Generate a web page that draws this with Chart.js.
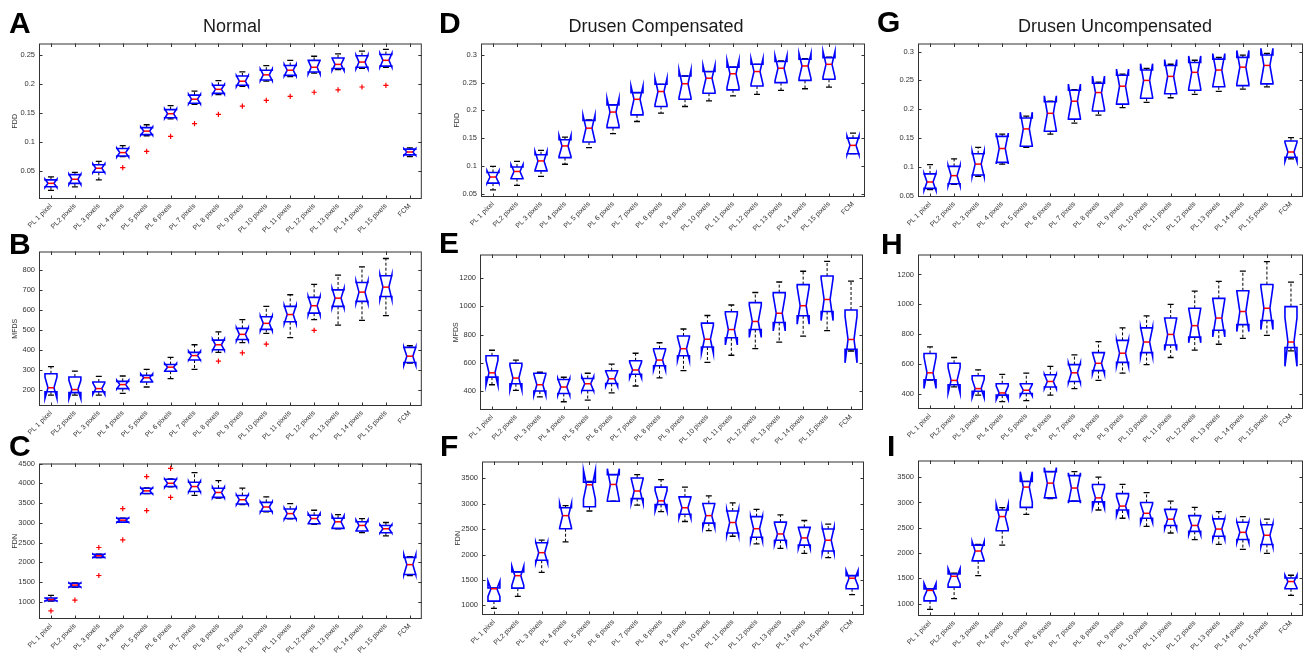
<!DOCTYPE html>
<html>
<head>
<meta charset="utf-8">
<script src="https://cdn.jsdelivr.net/npm/chart.js@4.4.0/dist/chart.umd.min.js"></script>
<style>
  body { margin: 0; background: #fff; }
  #fig { position: relative; width: 1311px; height: 660px; overflow: hidden; background: #fff; }
  #fig canvas { position: absolute; }
  .lab { position: absolute; font: bold 30px "Liberation Sans", Arial, sans-serif; line-height: 30px; color: #000; }
  .ttl { position: absolute; font: 18px "Liberation Sans", Arial, sans-serif; line-height: 18px; color: #1a1a1a;
         white-space: nowrap; transform: translateX(-50%); }
</style>
</head>
<body>
<div id="fig">
  <div class="lab" style="left:9px;top:8px">A</div>
  <div class="lab" style="left:9px;top:229px">B</div>
  <div class="lab" style="left:9px;top:431px">C</div>
  <div class="lab" style="left:439px;top:8px">D</div>
  <div class="lab" style="left:439px;top:228px">E</div>
  <div class="lab" style="left:440px;top:431px">F</div>
  <div class="lab" style="left:877px;top:7px">G</div>
  <div class="lab" style="left:881px;top:229px">H</div>
  <div class="lab" style="left:887px;top:431px">I</div>
  <div class="ttl" style="left:232px;top:17px">Normal</div>
  <div class="ttl" style="left:656px;top:17px">Drusen Compensated</div>
  <div class="ttl" style="left:1115px;top:17px">Drusen Uncompensated</div>
</div>
<script>
//categorias del eje x
var categories = ['PL 1 pixel','PL2 pixels','PL 3 pixels','PL 4 pixels','PL 5 pixels','PL 6 pixels','PL 7 pixels',
  'PL 8 pixels','PL 9 pixels','PL 10 pixels','PL 11 pixels','PL 12 pixels','PL 13 pixels','PL 14 pixels','PL 15 pixels','FCM'];

//numero de sujetos por grupo (para el ancho de la muesca)
var groupSize = 7;

//etiquetas del eje y
var ticksFdd1 = [0.05, 0.1, 0.15, 0.2, 0.25];
var ticksFdd2 = [0.05, 0.1, 0.15, 0.2, 0.25, 0.3];
var ticksMfds1 = [200, 300, 400, 500, 600, 700, 800];
var ticksMfds2 = [400, 600, 800, 1000, 1200];
var ticksFdn1 = [1000, 1500, 2000, 2500, 3000, 3500, 4000, 4500];
var ticksFdn2 = [1000, 1500, 2000, 2500, 3000, 3500];

//A - FDD normal
var aLow  = [0.016,0.022,0.034,0.074,0.110,0.139,0.164,0.181,0.195,0.204,0.212,0.218,0.224,0.226,0.228,0.074];
var aQ1   = [0.022,0.028,0.047,0.075,0.112,0.141,0.166,0.183,0.197,0.206,0.214,0.220,0.226,0.228,0.230,0.077];
var aMed  = [0.028,0.035,0.054,0.081,0.118,0.148,0.173,0.190,0.204,0.215,0.223,0.228,0.233,0.237,0.240,0.082];
var aQ3   = [0.034,0.043,0.060,0.088,0.124,0.155,0.180,0.197,0.213,0.223,0.231,0.240,0.244,0.248,0.250,0.087];
var aHigh = [0.039,0.047,0.066,0.093,0.129,0.162,0.187,0.205,0.220,0.231,0.240,0.247,0.251,0.256,0.259,0.089];
var aOut  = [[3,0.055],[4,0.083],[5,0.109],[6,0.131],[7,0.147],[8,0.161],[9,0.171],[10,0.178],[11,0.185],[12,0.189],[13,0.194],[14,0.197]];

//B - MFDS normal
var bLow  = [175,175,175,184,216,258,304,389,438,484,463,553,525,549,573,335];
var bQ1   = [192,188,192,208,241,295,351,402,453,504,542,585,619,644,668,338];
var bMed  = [212,203,208,228,262,315,373,427,479,534,578,622,660,690,715,370];
var bQ3   = [282,266,241,244,274,328,389,450,509,567,619,664,701,738,772,414];
var bHigh = [318,295,269,271,304,364,427,491,553,619,677,729,775,816,858,422];
var bOut  = [[7,345],[8,386],[9,430],[11,499]];

//C - FDN normal
var cLow  = [1020,1370,2120,3010,3740,3910,3692,3625,3458,3275,3100,2958,2850,2750,2667,1667];
var cQ1   = [1030,1378,2125,3017,3742,3917,3792,3642,3475,3292,3108,2975,2858,2792,2750,1692];
var cMed  = [1058,1425,2167,3067,3808,4000,3917,3767,3583,3400,3233,3108,3025,2933,2850,1942];
var cQ3   = [1100,1470,2205,3115,3875,4100,4025,3875,3692,3517,3350,3192,3117,3025,2933,2125];
var cHigh = [1167,1480,2210,3120,3880,4110,4267,4067,3875,3658,3483,3317,3208,3108,3008,2142];
var cOut  = [[0,775],[1,1042],[2,2375],[2,1667],[3,3358],[3,2567],[4,4167],[4,3308],[5,4375],[5,3642]];

//D - FDD drusen compensado
var dLow  = [0.057,0.065,0.081,0.103,0.133,0.158,0.180,0.195,0.207,0.217,0.226,0.229,0.236,0.239,0.242,0.122];
var dQ1   = [0.069,0.077,0.091,0.115,0.143,0.169,0.192,0.207,0.220,0.231,0.237,0.244,0.250,0.254,0.256,0.122];
var dMed  = [0.080,0.090,0.109,0.136,0.168,0.197,0.220,0.234,0.248,0.258,0.266,0.270,0.276,0.280,0.283,0.137];
var dQ3   = [0.088,0.098,0.120,0.147,0.182,0.210,0.232,0.247,0.262,0.270,0.278,0.283,0.288,0.292,0.295,0.150];
var dHigh = [0.099,0.108,0.128,0.152,0.183,0.210,0.232,0.247,0.262,0.270,0.278,0.283,0.289,0.293,0.296,0.159];

//E - MFDS drusen compensado
var eLow  = [446,407,361,326,338,388,437,495,546,604,654,701,747,788,828,684];
var eQ1   = [500,453,402,384,405,455,520,580,650,712,777,835,885,932,962,696];
var eMed  = [530,493,446,430,453,488,550,620,700,767,835,892,950,1003,1047,765];
var eQ3   = [650,597,527,483,490,545,615,700,790,880,960,1025,1095,1152,1212,973];
var eHigh = [689,620,534,499,527,592,668,742,839,934,1008,1096,1170,1246,1316,1177];

//F - FDN drusen compensado
var fLow  = [942,1180,1650,2250,2856,3049,2972,2843,2650,2469,2360,2211,2121,2025,1941,1213];
var fQ1   = [1085,1340,1889,2508,2940,3049,3100,2985,2791,2617,2424,2340,2282,2186,2070,1329];
var fMed  = [1328,1585,2037,2765,3371,3378,3249,3055,2920,2765,2630,2508,2405,2327,2282,1535];
var fQ3   = [1342,1660,2231,2920,3423,3571,3506,3326,3133,3004,2856,2746,2637,2534,2501,1586];
var fHigh = [1342,1660,2282,2960,3440,3571,3571,3474,3326,3152,3017,2888,2778,2669,2598,1586];

//G - FDD drusen sin compensar
var gLow  = [0.061,0.070,0.084,0.105,0.134,0.157,0.176,0.190,0.203,0.212,0.220,0.226,0.231,0.235,0.239,0.114];
var gQ1   = [0.063,0.071,0.086,0.108,0.136,0.162,0.183,0.197,0.209,0.219,0.227,0.233,0.239,0.241,0.244,0.117];
var gMed  = [0.074,0.085,0.105,0.132,0.166,0.193,0.214,0.229,0.240,0.250,0.257,0.264,0.268,0.273,0.276,0.126];
var gQ3   = [0.088,0.101,0.123,0.153,0.185,0.213,0.233,0.245,0.259,0.268,0.276,0.281,0.287,0.290,0.294,0.145];
var gHigh = [0.104,0.114,0.134,0.157,0.188,0.214,0.234,0.247,0.261,0.271,0.278,0.285,0.290,0.294,0.297,0.151];

//H - MFDS drusen sin compensar
var hLow  = [490,445,389,345,352,389,433,488,537,594,642,691,731,770,790,686];
var hQ1   = [493,459,415,389,400,444,481,554,609,675,726,779,825,863,891,709];
var hMed  = [539,488,433,404,422,481,539,603,671,746,797,856,907,951,973,746];
var hQ3   = [669,603,519,466,466,526,594,675,757,841,907,973,1039,1090,1132,984];
var hHigh = [713,642,559,528,537,583,660,748,841,922,999,1088,1154,1222,1286,1149];

//I - FDN drusen sin compensar
var iLow  = [883,1097,1552,2156,2766,3078,3026,2851,2688,2526,2396,2266,2169,2071,1993,1162];
var iQ1   = [1052,1325,1844,2441,2903,3091,3026,3013,2851,2688,2545,2429,2331,2266,2169,1292];
var iMed  = [1260,1539,2039,2721,3305,3383,3286,3091,2929,2786,2669,2545,2474,2409,2351,1435];
var iQ3   = [1290,1584,2156,2851,3416,3610,3532,3357,3175,3000,2864,2740,2675,2610,2558,1506];
var iHigh = [1290,1600,2170,2900,3416,3610,3610,3500,3357,3195,3026,2903,2818,2721,2669,1560];

//paneles: datos, ejes y posicion del area de trazado [x, y, ancho, alto]
var panels = [
  {low:aLow, q1:aQ1, med:aMed, q3:aQ3, high:aHigh, out:aOut, ticks:ticksFdd1, min:0.001, max:0.269, yTitle:'FDD',  rect:[39,41,384,158]},
  {low:bLow, q1:bQ1, med:bMed, q3:bQ3, high:bHigh, out:bOut, ticks:ticksMfds1, min:121, max:893, yTitle:'MFDS', rect:[39,249,384,157]},
  {low:cLow, q1:cQ1, med:cMed, q3:cQ3, high:cHigh, out:cOut, ticks:ticksFdn1, min:567, max:4500, yTitle:'FDN', rect:[39,461,384,158]},
  {low:dLow, q1:dQ1, med:dMed, q3:dQ3, high:dHigh, out:[], ticks:ticksFdd2, min:0.044, max:0.3205, yTitle:'FDD', rect:[481,41,384,156]},
  {low:eLow, q1:eQ1, med:eMed, q3:eQ3, high:eHigh, out:[], ticks:ticksMfds2, min:268, max:1364, yTitle:'MFDS', rect:[480,252,383,158]},
  {low:fLow, q1:fQ1, med:fMed, q3:fQ3, high:fHigh, out:[], ticks:ticksFdn2, min:812, max:3829, yTitle:'FDN', rect:[482,459,382,156]},
  {low:gLow, q1:gQ1, med:gMed, q3:gQ3, high:gHigh, out:[], ticks:ticksFdd2, min:0.048, max:0.314, yTitle:'', rect:[918,41,385,156]},
  {low:hLow, q1:hQ1, med:hMed, q3:hQ3, high:hHigh, out:[], ticks:ticksMfds2, min:296, max:1334, yTitle:'', rect:[918,252,385,157]},
  {low:iLow, q1:iQ1, med:iMed, q3:iQ3, high:iHigh, out:[], ticks:ticksFdn2, min:753, max:3831, yTitle:'', rect:[918,458,385,158]}
];

var notchFactor = 1.57 / Math.sqrt(groupSize);
var fontFamily = '"Liberation Sans", Arial, sans-serif';

//plugin que dibuja las cajas con muesca (estilo matlab)
function boxPlugin(p) {
  return {
    id: 'notchedBoxes',
    beforeDatasetsDraw: function(chart) {
      var ctx = chart.ctx, xs = chart.scales.x, ys = chart.scales.y;
      var bw = xs.width / categories.length * 0.5;
      ctx.save();
      for (var i = 0; i < categories.length; i++) {
        var cx = xs.getPixelForValue(i);
        var L = cx - bw / 2, R = cx + bw / 2, nl = cx - bw / 4, nr = cx + bw / 4;
        var iqr = p.q3[i] - p.q1[i];
        var yLo = ys.getPixelForValue(p.low[i]);
        var yQ1 = ys.getPixelForValue(p.q1[i]);
        var yMed = ys.getPixelForValue(p.med[i]);
        var yQ3 = ys.getPixelForValue(p.q3[i]);
        var yHi = ys.getPixelForValue(p.high[i]);
        var yNlo = ys.getPixelForValue(p.med[i] - notchFactor * iqr);
        var yNhi = ys.getPixelForValue(p.med[i] + notchFactor * iqr);

        //bigotes
        ctx.strokeStyle = '#000';
        ctx.lineWidth = 1;
        ctx.setLineDash([3, 2]);
        ctx.beginPath();
        if (p.high[i] > p.q3[i]) { ctx.moveTo(cx, yQ3); ctx.lineTo(cx, yHi); }
        if (p.low[i] < p.q1[i]) { ctx.moveTo(cx, yQ1); ctx.lineTo(cx, yLo); }
        ctx.stroke();
        ctx.setLineDash([]);
        ctx.lineWidth = 1.3;
        ctx.beginPath();
        ctx.moveTo(nl, yHi); ctx.lineTo(nr, yHi);
        ctx.moveTo(nl, yLo); ctx.lineTo(nr, yLo);
        ctx.stroke();

        //caja
        ctx.strokeStyle = '#0000ff';
        ctx.lineWidth = 1.6;
        ctx.beginPath();
        ctx.moveTo(L, yQ1);
        ctx.lineTo(L, yNlo);
        ctx.lineTo(nl, yMed);
        ctx.lineTo(L, yNhi);
        ctx.lineTo(L, yQ3);
        ctx.lineTo(R, yQ3);
        ctx.lineTo(R, yNhi);
        ctx.lineTo(nr, yMed);
        ctx.lineTo(R, yNlo);
        ctx.lineTo(R, yQ1);
        ctx.closePath();
        ctx.stroke();

        //mediana
        ctx.strokeStyle = '#ff0000';
        ctx.lineWidth = 1.5;
        ctx.beginPath();
        ctx.moveTo(nl, yMed); ctx.lineTo(nr, yMed);
        ctx.stroke();
      }
      ctx.restore();
    },
    afterDraw: function(chart) {
      var ctx = chart.ctx, a = chart.chartArea, xs = chart.scales.x, ys = chart.scales.y;
      ctx.save();
      ctx.strokeStyle = '#333';
      ctx.lineWidth = 1;
      ctx.strokeRect(a.left + 0.5, a.top + 0.5, a.right - a.left - 1, a.bottom - a.top - 1);
      ctx.beginPath();
      //marcas hacia dentro
      ys.ticks.forEach(function(t) {
        var py = Math.round(ys.getPixelForValue(t.value)) + 0.5;
        ctx.moveTo(a.left, py); ctx.lineTo(a.left + 3.5, py);
        ctx.moveTo(a.right, py); ctx.lineTo(a.right - 3.5, py);
      });
      for (var i = 0; i < categories.length; i++) {
        var px = Math.round(xs.getPixelForValue(i)) + 0.5;
        ctx.moveTo(px, a.bottom); ctx.lineTo(px, a.bottom - 3.5);
        ctx.moveTo(px, a.top); ctx.lineTo(px, a.top + 3.5);
      }
      ctx.stroke();
      ctx.restore();
    }
  };
}

var padL = 38, padR = 4, padT = 6, padB = 40;
var fig = document.getElementById('fig');

panels.forEach(function(p) {
  var canvas = document.createElement('canvas');
  var w = p.rect[2] + padL + padR, h = p.rect[3] + padT + padB;
  canvas.width = w;
  canvas.height = h;
  canvas.style.width = w + 'px';
  canvas.style.height = h + 'px';
  canvas.style.left = (p.rect[0] - padL) + 'px';
  canvas.style.top = (p.rect[1] - padT) + 'px';
  fig.insertBefore(canvas, fig.firstChild);

  new Chart(canvas.getContext('2d'), {
    type: 'line',
    data: {
      labels: categories,
      datasets: [{
        data: p.out.map(function(o) { return {x: categories[o[0]], y: o[1]}; }),
        showLine: false,
        pointStyle: 'cross',
        pointRadius: 2.6,
        pointBorderColor: '#ff0000',
        pointBorderWidth: 1.2
      }]
    },
    options: {
      responsive: false,
      animation: false,
      layout: { padding: { left: 0, right: padR, top: padT, bottom: 0 } },
      plugins: { legend: { display: false }, tooltip: { enabled: false } },
      scales: {
        x: {
          type: 'category',
          offset: true,
          grid: { display: false, drawTicks: false },
          border: { display: false },
          ticks: { autoSkip: false, minRotation: 45, maxRotation: 45, padding: 3, color: '#333',
                   font: { family: fontFamily, size: 7 } },
          afterFit: function(s) { s.height = padB; }
        },
        y: {
          min: p.min,
          max: p.max,
          grid: { display: false, drawTicks: false },
          border: { display: false },
          afterBuildTicks: function(s) { s.ticks = p.ticks.map(function(v) { return {value: v}; }); },
          ticks: { padding: 4, color: '#333', font: { family: fontFamily, size: 7.5 },
                   callback: function(v) { return String(+Number(v).toFixed(3)); } },
          title: { display: p.yTitle !== '', text: p.yTitle, color: '#333',
                   font: { family: fontFamily, size: 7 }, padding: { top: 10, bottom: 0 } },
          afterFit: function(s) { s.width = padL; }
        }
      }
    },
    plugins: [boxPlugin(p)]
  });
});
</script>
</body>
</html>
